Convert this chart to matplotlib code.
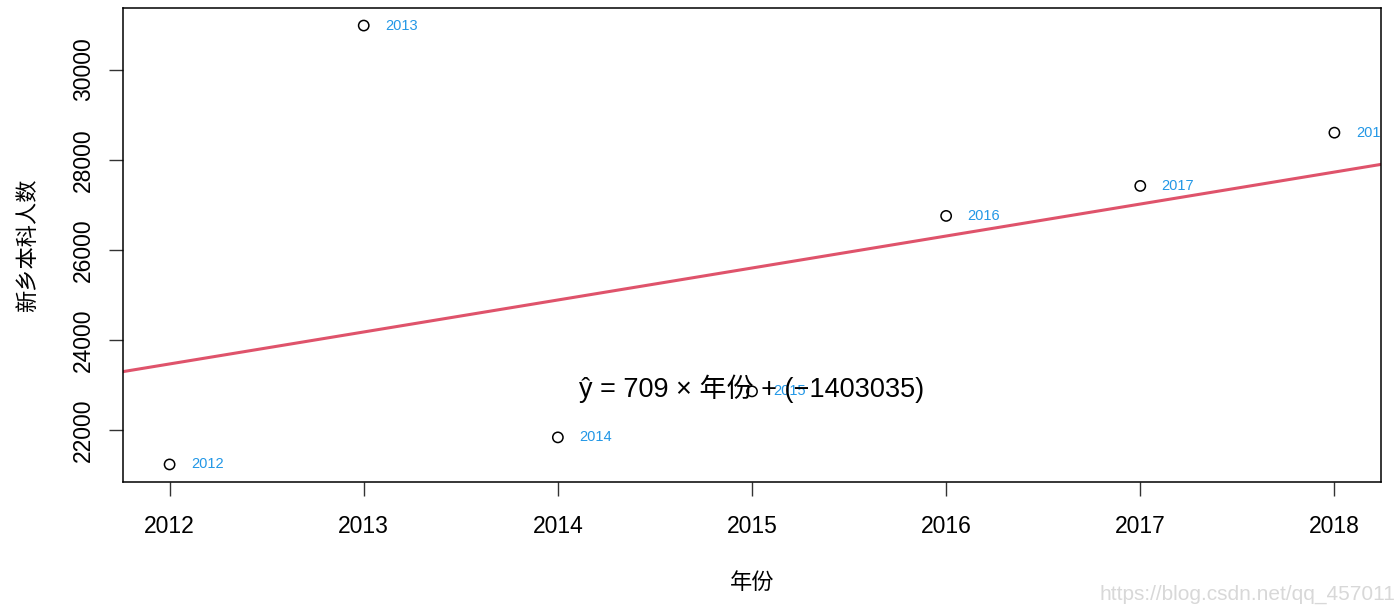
import matplotlib.pyplot as plt
import numpy as np

# 新乡本科人数 by year
years = [2012, 2013, 2014, 2015, 2016, 2017, 2018]
students = [21245, 30975, 21845, 22865, 26755, 27420, 28600]
slope = 709
intercept = -1403035

plt.rcParams['font.family'] = ['Liberation Sans', 'Noto Sans CJK SC', 'DejaVu Sans']

fig = plt.figure(figsize=(13.95, 6.06), dpi=100)
ax = fig.add_axes([123 / 1395, 1 - 482 / 606, (1381 - 123) / 1395, (482 - 8) / 606])

x = np.array(years)
y = np.array(students)
ax.scatter(x, y, s=55, facecolors='none', edgecolors='black', linewidths=1.1, zorder=3)

# R-style 4% padding
xr = x.max() - x.min()
yr = y.max() - y.min()
ax.set_xlim(x.min() - 0.04 * xr, x.max() + 0.04 * xr)
ax.set_ylim(y.min() - 0.04 * yr, y.max() + 0.04 * yr)

xl = np.array(ax.get_xlim())
ax.plot(xl, slope * xl + intercept, color='#DF536B', lw=2.2, zorder=2)

for xi, yi in zip(years, students):
    ax.text(xi + 0.11, yi, str(xi), color='#2297E6', fontsize=10.5,
            va='center', ha='left', clip_on=True)

ax.text(2015, 22930, "ŷ = 709 × 年份 + (−1403035)", fontsize=19.5,
        ha='center', va='center')

ax.set_xticks(years)
ax.set_xticklabels([str(v) for v in years])
ax.set_yticks([22000, 24000, 26000, 28000, 30000])
ax.set_yticklabels(['22000', '24000', '26000', '28000', '30000'], rotation=90, va='center')
ax.tick_params(axis='both', labelsize=16.5, length=10, width=1, pad=10, color='#333333')
ax.tick_params(axis='x', pad=14)
for s in ax.spines.values():
    s.set_linewidth(1.1)

ax.set_xlabel("年份", fontsize=16, labelpad=25)
ax.set_ylabel("新乡本科人数", fontsize=16, labelpad=24)

fig.text(1395 / 1395, 0.003, "https://blog.csdn.net/qq_457011", color='#d8d8d8',
         fontsize=15, ha='right', va='bottom')

fig.savefig("out.png", dpi=100)
